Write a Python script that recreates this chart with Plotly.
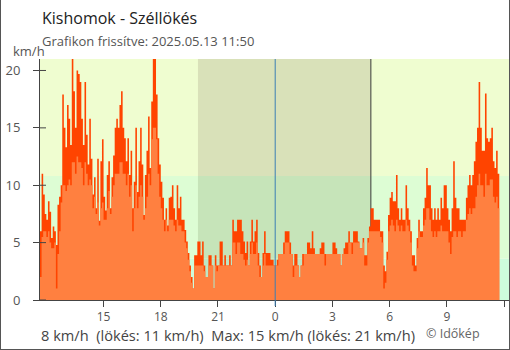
import pandas as pd
import plotly.graph_objects as go

# ---- data -------------------------------------------------------------
station_title = "Kishomok - Széllökés"
updated_text = "Grafikon frissítve: 2025.05.13 11:50"
first_slot = "2025-05-12 11:40"
slot_minutes = 5

# wind gust (km/h), one value per 5-minute slot
gust_kmh = [
    6.0, 11.0, 9.2, 7.5, 7.0, 8.6, 7.7, 5.4, 6.4, 6.0,
    4.8, 8.3, 9.0, 10.0, 17.9, 15.0, 13.3, 17.0, 15.8, 13.5,
    21.0, 18.2, 15.0, 20.0, 19.7, 19.0, 15.8, 13.5, 19.0, 14.4,
    11.8, 15.8, 12.3, 9.2, 10.7, 8.0, 12.3, 6.9, 12.1, 14.0,
    9.0, 7.8, 10.9, 12.1, 8.0, 10.7, 12.6, 15.0, 15.8, 15.0,
    17.0, 18.2, 15.0, 14.1, 12.1, 14.1, 10.9, 13.0, 8.0, 10.3,
    15.0, 9.4, 12.1, 15.0, 11.8, 7.4, 10.9, 13.0, 16.0, 11.5,
    17.3, 21.0, 21.0, 17.9, 14.1, 11.8, 10.3, 8.9, 7.0, 8.0,
    6.5, 8.9, 9.0, 10.0, 8.0, 7.0, 10.0, 8.0, 9.0, 7.0,
    7.0, 6.1, 5.1, 4.1, 3.0, 2.0, 1.0, 3.9,
    3.9, 5.1, 5.1, 3.9, 5.1, 3.0, 2.0, 2.0, 3.9, 3.9, 3.0, 1.0,
    3.9, 3.0, 3.0, 5.1, 5.1, 3.0, 3.9, 3.0, 3.0, 3.9,
    3.0, 7.0, 6.0, 6.0, 7.0, 7.0, 7.0, 6.0, 5.1, 4.1,
    5.1, 3.0, 5.1, 7.0, 5.1, 6.0, 7.0, 4.1, 3.0, 2.0,
    4.1, 6.0, 4.1, 4.1, 4.1, 3.5, 3.5, 3.0,
    3.0, 3.5, 4.0, 4.0, 4.0, 5.0, 6.0, 6.0, 6.0, 5.0,
    4.0, 3.0, 4.0, 4.0, 3.0, 2.0, 3.0, 4.0, 4.0, 4.0,
    5.0, 5.0, 4.5, 6.0, 4.5, 4.0, 4.0, 4.0, 4.5, 5.0,
    5.0, 4.0, 4.0, 4.0, 4.0, 4.0, 5.0, 5.0, 4.5, 4.0,
    4.0, 3.0, 4.0, 4.5, 5.0, 5.0, 6.0, 5.0, 5.0,
    6.0, 6.0, 6.0, 5.1, 4.5, 4.5, 5.4, 3.9, 3.9, 5.4,
    6.4, 8.0, 8.0, 7.0, 7.0, 7.0, 7.0, 6.0, 6.0, 3.0,
    2.5, 4.2, 7.4, 8.9, 9.4, 8.6, 8.6, 10.9, 8.0, 7.0,
    8.0, 7.0, 7.0, 10.0, 8.0, 7.0, 6.0, 3.9, 3.9, 3.0,
    5.4, 7.0, 6.0, 6.0, 8.0, 8.9, 11.5, 10.0, 10.0,
    8.0, 7.0, 8.0, 7.0, 8.0, 7.0, 8.9, 8.0, 10.0, 10.0,
    8.0, 7.0, 6.0, 8.0, 12.1, 8.9, 8.0, 8.0, 7.0, 7.0,
    7.0, 7.0, 8.9, 10.0, 10.9, 10.0, 10.9, 12.1, 13.8, 15.0,
    19.0, 15.0, 13.0, 13.0, 18.0, 14.1, 13.8, 14.1, 15.0, 12.1,
    11.5, 13.0, 11.0,
]

# mean wind speed (km/h), same slots
mean_kmh = [
    2.0, 5.5, 6.0, 6.0, 5.5, 6.0, 5.0, 4.5, 4.5, 5.0,
    1.0, 4.0, 6.0, 8.5, 10.0, 10.0, 9.5, 10.0, 10.5, 10.0,
    12.0, 12.0, 11.0, 12.5, 12.0, 12.0, 11.5, 10.0, 12.0, 11.0,
    10.0, 10.5, 10.0, 8.0, 9.0, 7.5, 8.5, 6.5, 8.0, 8.5,
    7.0, 7.0, 8.0, 9.5, 7.5, 9.0, 10.0, 11.0, 11.0, 11.0,
    12.0, 12.0, 11.0, 11.0, 10.0, 11.0, 9.0, 10.0, 6.0, 8.0,
    10.0, 8.0, 9.0, 10.0, 9.0, 7.0, 8.0, 9.0, 11.0, 10.0,
    14.0, 15.0, 15.0, 14.0, 11.0, 9.0, 8.0, 7.0, 6.0, 7.0,
    6.0, 7.0, 7.0, 7.0, 6.5, 6.0, 7.0, 6.5, 6.5, 6.0,
    6.0, 5.0, 4.5, 3.5, 2.5, 1.5, 1.0, 3.0,
    3.0, 3.0, 3.0, 3.0, 3.0, 2.5, 2.0, 2.0, 3.0, 3.0, 3.0, 1.0,
    3.0, 2.5, 3.0, 3.0, 3.0, 3.0, 3.0, 3.0, 3.0, 3.0,
    3.0, 5.0, 5.0, 4.0, 5.0, 5.0, 4.0, 4.0, 3.5, 3.0,
    3.5, 3.0, 4.0, 5.0, 4.0, 4.0, 5.0, 3.0, 2.0, 2.0,
    3.0, 4.0, 3.0, 3.0, 3.0, 3.0, 3.0, 3.0,
    3.0, 3.0, 4.0, 4.0, 4.0, 4.0, 5.0, 5.0, 5.0, 4.0,
    4.0, 2.0, 3.0, 3.0, 3.0, 2.0, 3.0, 3.0, 4.0, 4.0,
    4.0, 4.0, 4.0, 4.0, 4.0, 4.0, 4.0, 4.0, 4.0, 4.0,
    4.0, 3.0, 4.0, 4.0, 4.0, 4.0, 4.0, 4.0, 4.0, 4.0,
    4.0, 3.0, 4.0, 4.0, 4.0, 4.0, 5.0, 5.0, 4.0,
    5.0, 5.0, 5.0, 5.0, 4.5, 4.5, 5.0, 3.0, 3.0, 5.0,
    6.0, 6.0, 6.0, 6.0, 6.0, 6.0, 6.0, 5.5, 5.0, 1.0,
    1.5, 3.5, 6.0, 6.5, 7.0, 6.5, 6.0, 7.0, 6.5, 6.0,
    6.5, 6.0, 6.0, 7.0, 6.5, 6.0, 5.0, 3.0, 2.5, 2.5,
    4.5, 6.0, 5.5, 5.5, 6.5, 7.0, 8.0, 8.0, 7.0,
    6.0, 5.5, 6.0, 5.5, 6.0, 6.0, 6.5, 6.0, 6.0, 6.0,
    6.0, 5.0, 4.0, 5.5, 6.0, 6.0, 5.5, 6.0, 6.0, 5.5,
    6.0, 6.0, 7.0, 7.5, 8.0, 7.5, 8.0, 8.0, 9.0, 10.0,
    11.0, 10.0, 10.0, 9.0, 11.0, 10.0, 10.0, 10.5, 10.5, 9.0,
    8.5, 9.0, 8.0,
]

x_range = ["2025-05-12 11:40", "2025-05-13 12:18:45"]
x_tick_times = ["2025-05-12 15:00", "2025-05-12 18:00", "2025-05-12 21:00",
                "2025-05-13 00:00", "2025-05-13 03:00", "2025-05-13 06:00",
                "2025-05-13 09:00", "2025-05-13 12:00"]
x_tick_labels = ["15", "18", "21", "0", "3", "6", "9", "12"]
y_ticks = [0, 5, 10, 15, 20]
y_max = 21

# wind bands (km/h) with day / night background colours
bands = [(0, 3.6), (3.6, 10.8), (10.8, y_max)]
band_day = ["#cdfcdc", "#ddfdd4", "#effdd0"]
band_night = ["#bde6c4", "#c6e4b9", "#d9e1b9"]
sunset = "2025-05-12 19:57"
sunrise = "2025-05-13 05:01"
midnight = "2025-05-13 00:00"

# ---- geometry helpers (pixels of the 510x350 canvas) --------------------
W, H = 510, 350
ML, MR, MT, MB = 40, 0, 59, 50
PW, PH = W - ML - MR, H - MT - MB


def px(x):
    return (x - ML) / PW


def py(y):
    return (H - MB - y) / PH


# ---- traces -------------------------------------------------------------
slots = pd.date_range(first_slot, periods=len(gust_kmh), freq=f"{slot_minutes}min")
edges = list(slots) + [slots[-1] + pd.Timedelta(minutes=slot_minutes)]

fig = go.Figure()
fig.add_trace(go.Scatter(
    x=edges, y=gust_kmh + [gust_kmh[-1]], mode="lines", line_shape="hv",
    line=dict(width=0, color="#ff4400"), fill="tozeroy", fillcolor="#ff4400",
    hoverinfo="skip", showlegend=False))
fig.add_trace(go.Scatter(
    x=edges, y=mean_kmh + [mean_kmh[-1]], mode="lines", line_shape="hv",
    line=dict(width=0, color="#ff8040"), fill="tozeroy", fillcolor="#ff8040",
    hoverinfo="skip", showlegend=False))

# ---- background shapes --------------------------------------------------
shapes = []
for (lo, hi), cd, cn in zip(bands, band_day, band_night):
    shapes.append(dict(type="rect", xref="x", yref="y", x0=x_range[0], x1=x_range[1],
                       y0=lo, y1=hi, fillcolor=cd, line_width=0, layer="below"))
    shapes.append(dict(type="rect", xref="x", yref="y", x0=sunset, x1=sunrise,
                       y0=lo, y1=hi, fillcolor=cn, line_width=0, layer="below"))
shapes.append(dict(type="line", xref="x", yref="y", x0=sunrise, x1=sunrise,
                   y0=0, y1=y_max, line=dict(color="#3a3a3a", width=1), layer="below"))
shapes.append(dict(type="line", xref="x", yref="paper", x0=midnight, x1=midnight,
                   y0=-6 / PH, y1=1, line=dict(color="#3a7fb4", width=1), layer="above"))
# inner half of the y tick marks
for v in y_ticks:
    shapes.append(dict(type="line", xref="paper", yref="y", x0=0, x1=6 / PW,
                       y0=v, y1=v, line=dict(color="#444", width=1), layer="above"))
# outer frame
frame = dict(color="#555", width=1)
shapes.append(dict(type="line", xref="paper", yref="paper", x0=px(0.5), x1=px(0.5),
                   y0=py(0), y1=py(349.5), line=frame))
shapes.append(dict(type="line", xref="paper", yref="paper", x0=px(509.5), x1=px(509.5),
                   y0=py(0), y1=py(349.5), line=frame))
shapes.append(dict(type="line", xref="paper", yref="paper", x0=px(0), x1=px(510),
                   y0=py(349.5), y1=py(349.5), line=frame))

# ---- texts --------------------------------------------------------------
font = "Open Sans, sans-serif"
summary = (f"{mean_kmh[-1]:.0f} km/h\u00a0 (lökés: {gust_kmh[-1]:.0f} km/h)\u00a0 "
           f"Max: {max(mean_kmh):.0f} km/h (lökés: {max(gust_kmh):.0f} km/h)")
annotations = [
    dict(text=station_title, x=px(40), y=py(18), xanchor="left", yanchor="middle",
         font=dict(size=16, color="#222")),
    dict(text=updated_text, x=px(40), y=py(41), xanchor="left", yanchor="middle",
         font=dict(size=13, color="#555")),
    dict(text="km/h", x=px(11), y=py(51), xanchor="left", yanchor="middle",
         font=dict(size=13, color="#555")),
    dict(text=summary, x=px(39), y=py(335), xanchor="left", yanchor="middle",
         font=dict(size=14.6, color="#444")),
    dict(text="© Időkép", x=px(424), y=py(333.5), xanchor="left", yanchor="middle",
         font=dict(size=12.5, color="#666")),
]
for a in annotations:
    a.update(xref="paper", yref="paper", showarrow=False)
    a["font"]["family"] = font

fig.update_layout(
    width=W, height=H, margin=dict(l=ML, r=MR, t=MT, b=MB),
    paper_bgcolor="white", plot_bgcolor="white",
    font=dict(family=font, color="#555"),
    shapes=shapes, annotations=annotations, showlegend=False,
    xaxis=dict(type="date", range=x_range, tickvals=x_tick_times, ticktext=x_tick_labels,
               ticks="outside", ticklen=6, tickcolor="#444", showline=True,
               linecolor="#444", linewidth=1, showgrid=False, zeroline=False,
               ticklabelstandoff=0, tickfont=dict(size=12, color="#555")),
    yaxis=dict(range=[0, y_max], tickvals=y_ticks, ticks="outside", ticklen=6,
               tickcolor="#444", showline=True, linecolor="#444", linewidth=1,
               showgrid=False, zeroline=False, ticklabelstandoff=10,
               tickfont=dict(size=13, color="#555")),
)

fig.write_html("out.html")
